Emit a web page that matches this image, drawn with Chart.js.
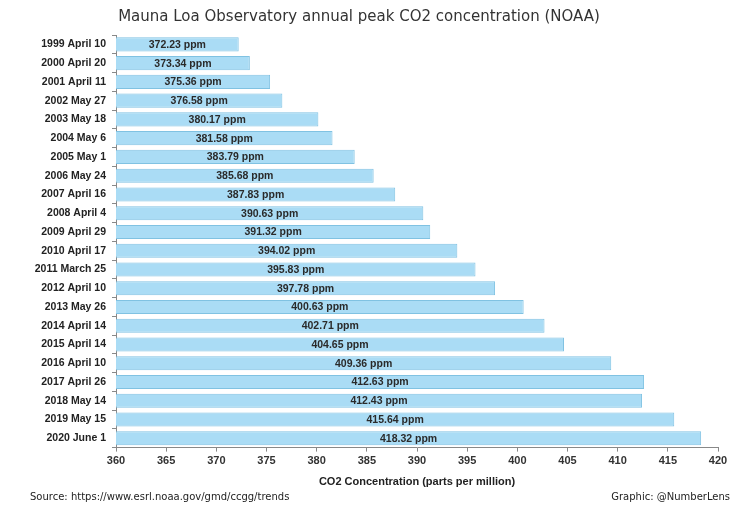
<!DOCTYPE html>
<html>
<head>
<meta charset="utf-8">
<script src="https://cdn.jsdelivr.net/npm/chart.js@4/dist/chart.umd.min.js"></script>
<style>
    html, body { margin: 0; padding: 0; background: #fff; }
    #wrap { width: 751px; height: 511px; }
</style>
</head>
<body>
<div id="wrap"><canvas id="co2-chart" width="751" height="511"></canvas></div>
<script>
const dates = [
    '1999 April 10', '2000 April 20', '2001 April 11', '2002 May 27', '2003 May 18',
    '2004 May 6', '2005 May 1', '2006 May 24', '2007 April 16', '2008 April 4',
    '2009 April 29', '2010 April 17', '2011 March 25', '2012 April 10', '2013 May 26',
    '2014 April 14', '2015 April 14', '2016 April 10', '2017 April 26', '2018 May 14',
    '2019 May 15', '2020 June 1',
];
const peakPpm = [
    372.23, 373.34, 375.36, 376.58, 380.17, 381.58, 383.79, 385.68, 387.83, 390.63,
    391.32, 394.02, 395.83, 397.78, 400.63, 402.71, 404.65, 409.36, 412.63, 412.43,
    415.64, 418.32,
];
const xMin = 360;
const xMax = 420;
const xStep = 5;

// value label centred inside each bar
const barLabels = {
    id: 'barLabels',
    afterDraw(chart) {
        const ctx = chart.ctx;
        const xScale = chart.scales.x;
        const yScale = chart.scales.y;
        const start = xScale.getPixelForValue(xMin);
        ctx.save();
        ctx.font = 'bold 10.5px "Liberation Sans", Arial, sans-serif';
        ctx.fillStyle = '#2a2a2a';
        ctx.textAlign = 'center';
        ctx.textBaseline = 'middle';
        peakPpm.forEach((v, i) => {
            const end = xScale.getPixelForValue(v);
            const y = yScale.getPixelForValue(i);
            ctx.fillText(v.toFixed(2) + ' ppm', (start + end) / 2, y + 0.5);
        });
        ctx.restore();
    },
};

const footer = {
    id: 'footer',
    afterDraw(chart) {
        const ctx = chart.ctx;
        ctx.save();
        ctx.font = '10px "DejaVu Sans", Verdana, sans-serif';
        ctx.fillStyle = '#222';
        ctx.textBaseline = 'middle';
        ctx.textAlign = 'left';
        ctx.fillText('Source: https://www.esrl.noaa.gov/gmd/ccgg/trends', 30, 497);
        ctx.textAlign = 'right';
        ctx.fillText('Graphic: @NumberLens', 730, 497);
        ctx.restore();
    },
};

new Chart(document.getElementById('co2-chart'), {
    type: 'bar',
    data: {
        labels: dates,
        datasets: [{
            data: peakPpm,
            backgroundColor: '#aadcf5',
            borderColor: '#80c2e2',
            borderWidth: 1,
            borderSkipped: false,
            categoryPercentage: 0.75,
            barPercentage: 1,
        }],
    },
    options: {
        indexAxis: 'y',
        responsive: false,
        animation: false,
        devicePixelRatio: 1,
        layout: { padding: { left: 0, right: 33, top: 0, bottom: 22 } },
        plugins: {
            legend: { display: false },
            tooltip: { enabled: false },
            title: {
                display: true,
                text: 'Mauna Loa Observatory annual peak CO2 concentration (NOAA)',
                color: '#333',
                font: { family: '"DejaVu Sans", Verdana, sans-serif', size: 15, weight: 'normal' },
                padding: { top: 8, bottom: 9 },
            },
        },
        scales: {
            x: {
                min: xMin,
                max: xMax,
                ticks: {
                    stepSize: xStep,
                    color: '#333',
                    padding: 3,
                    font: { family: '"Liberation Sans", Arial, sans-serif', size: 11, weight: 'bold' },
                },
                grid: { drawOnChartArea: false, tickLength: 4, color: '#888' },
                border: { color: '#888' },
                title: {
                    display: true,
                    text: 'CO2 Concentration (parts per million)',
                    color: '#222',
                    font: { family: '"Liberation Sans", Arial, sans-serif', size: 11, weight: 'bold' },
                    padding: { top: 5, bottom: 0 },
                },
            },
            y: {
                afterFit: (scale) => { scale.width = 116; },
                ticks: {
                    color: '#222',
                    padding: 6,
                    font: { family: '"Liberation Sans", Arial, sans-serif', size: 10.5, weight: 'bold' },
                },
                grid: { offset: true, drawOnChartArea: false, tickLength: 4, color: '#888' },
                border: { color: '#888' },
            },
        },
    },
    plugins: [barLabels, footer],
});
</script>
</body>
</html>
